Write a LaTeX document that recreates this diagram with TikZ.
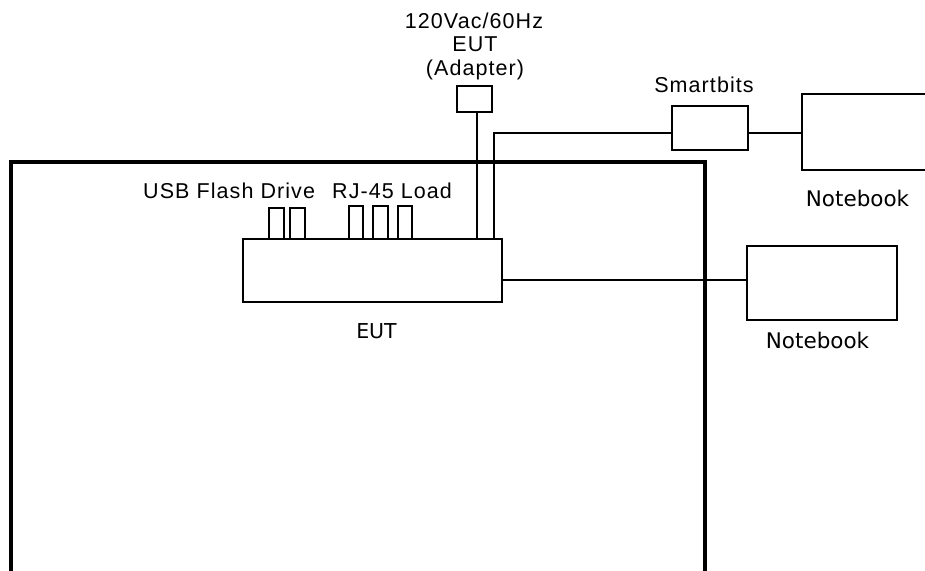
\documentclass[tikz,border=0pt]{standalone}
\usepackage{fontspec}
\setmainfont{Liberation Sans}[LetterSpace=5]
\newfontfamily\tahomalike{DejaVu Sans}
\begin{document}
\begin{tikzpicture}[x=1pt,y=-1pt,
  box/.style={draw,line width=1.5pt,inner sep=0pt,anchor=north west},
  wire/.style={line width=1.5pt},
  lbl/.style={inner sep=0pt,font=\fontsize{21.5}{23}\selectfont},
  nlbl/.style={inner sep=0pt,anchor=base,font=\tahomalike\fontsize{21.5}{23}\selectfont},
  elbl/.style={inner sep=0pt,anchor=base,font=\tahomalike\fontsize{20.5}{23}\selectfont}]
\useasboundingbox (0,0) rectangle (925,570);
\clip (0,0) rectangle (925,570);
% test chamber
\draw[line width=4pt] (11,590) -- (11,162) -- (705,162) -- (705,590);
% boxes
\node[box,minimum width=259pt,minimum height=63pt] (eut) at (242,238) {};
\node[box,minimum width=35pt,minimum height=26pt] (adapter) at (456,85) {};
\node[box,minimum width=76pt,minimum height=44pt] (smart) at (671,105) {};
\node[box,minimum width=150pt,minimum height=76pt] (nb1) at (801,93) {};
\node[box,minimum width=150pt,minimum height=74pt] (nb2) at (746,245) {};
% ports
\node[box,minimum width=15pt,minimum height=31pt] (usb1) at (268,207) {};
\node[box,minimum width=15pt,minimum height=31pt] (usb2) at (289,207) {};
\node[box,minimum width=14pt,minimum height=33pt] (rj1) at (348,205) {};
\node[box,minimum width=15pt,minimum height=33pt] (rj2) at (372,205) {};
\node[box,minimum width=14pt,minimum height=33pt] (rj3) at (397,205) {};
% connectors
\coordinate (p) at ([xshift=2.5pt]adapter.south);
\draw[wire] (p) -- (p |- eut.north);
\coordinate (s) at ([xshift=-8.5pt]eut.north east);
\draw[wire] (s) |- ([yshift=-5pt]smart.west);
\draw[wire] ([yshift=-5pt]smart.east) -- ([yshift=-5pt]smart.east -| nb1.west);
\draw[wire] ([yshift=-9.5pt]eut.east) -- ([yshift=-9.5pt]eut.east -| nb2.west);
% labels
\node[lbl,anchor=base] (a1) at (474,28) {120Vac/60Hz};
\node[lbl,anchor=base] (a2) at (475,51) {EUT};
\node[lbl,anchor=base] (a3) at (475,75) {(Adapter)};
\node[lbl,anchor=base west] (lusb) at (143,198) {USB Flash Drive};
\node[lbl,anchor=base west] (lrj) at (332,198) {RJ-45 Load};
\node[lbl,anchor=base] (lsmart) at (704,92) {Smartbits};
\node[elbl] (leut) at (376.5,338) {EUT};
\node[nlbl] (lnb1) at (857.5,206) {Notebook};
\node[nlbl] (lnb2) at (817.5,348) {Notebook};
\end{tikzpicture}
\end{document}
